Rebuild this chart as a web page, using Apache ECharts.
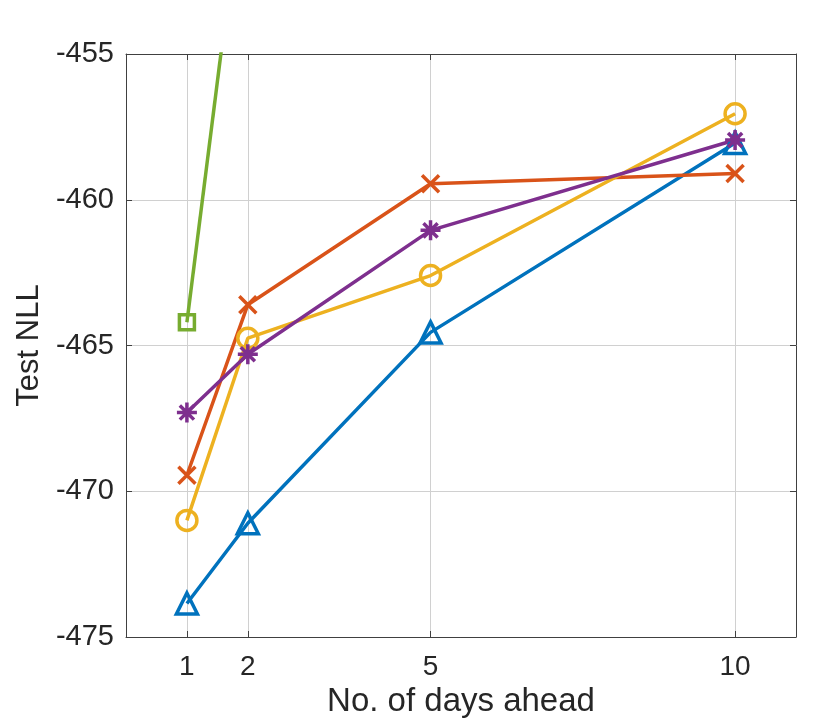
<!DOCTYPE html>
<html>
<head>
<meta charset="utf-8">
<script src="https://cdn.jsdelivr.net/npm/echarts@6/dist/echarts.min.js"></script>
<style>html,body{margin:0;padding:0;background:#fff;}#c{width:830px;height:724px;}</style>
</head>
<body>
<div id="c"></div>
<script>
var xTicks = [1, 2, 5, 10];
var days = [1, 2, 5, 10];
var blueVals = [-473.85, -471.1, -464.55, -458.05];
var orangeVals = [-469.45, -463.6, -459.45, -459.1];
var yellowVals = [-471.0, -464.75, -462.6, -457.05];
var purpleVals = [-467.3, -465.3, -461.05, -457.95];
var greenDays = [1, 2];
var greenVals = [-464.2, -447.7];

var FONT = '"Liberation Sans", Arial, Helvetica, sans-serif';
var ASTER = 'path://M10,0L10,20M0,10L20,10M2.93,2.93L17.07,17.07M17.07,2.93L2.93,17.07';
var XMARK = 'path://M0,0L20,20M20,0L0,20';

function pts(xs, ys){ return xs.map(function(x,i){ return [x, ys[i]]; }); }
function mk(name, xs, ys, color, symbol, size, bw){
  return {
    name: name, type: 'line', data: pts(xs, ys),
    symbol: symbol, symbolSize: size, showAllSymbol: true,
    lineStyle: {color: color, width: 3.5},
    itemStyle: {color: 'rgba(0,0,0,0)', borderColor: color, borderWidth: bw},
    clip: true, z: 3
  };
}

var chart = echarts.init(document.getElementById('c'), null, {renderer: 'canvas'});
var gridLine = {show: true, lineStyle: {color: '#d0d0d0', width: 1}};
chart.setOption({
  animation: false,
  backgroundColor: '#fff',
  grid: {left: 126, right: 34, top: 54, bottom: 87, containLabel: false},
  xAxis: [{
    type: 'value', min: 0, max: 11, interval: 1, position: 'bottom',
    name: 'No. of days ahead', nameLocation: 'middle', nameGap: 48,
    nameTextStyle: {fontFamily: FONT, fontSize: 33, color: '#262626'},
    axisLine: {show: true, onZero: false, lineStyle: {color: '#404040', width: 1}},
    axisTick: {show: true, inside: true, length: 6, customValues: xTicks, lineStyle: {color: '#404040'}},
    axisLabel: {show: true, customValues: xTicks, margin: 16, fontFamily: FONT, fontSize: 28, color: '#262626'},
    splitLine: gridLine
  }, {
    type: 'value', min: 0, max: 11, interval: 1, position: 'top',
    axisLine: {show: true, onZero: false, lineStyle: {color: '#404040', width: 1}},
    axisTick: {show: true, inside: true, length: 6, customValues: xTicks, lineStyle: {color: '#404040'}},
    axisLabel: {show: false},
    splitLine: {show: false}
  }],
  yAxis: [{
    type: 'value', min: -475, max: -455, interval: 5, position: 'left',
    name: 'Test NLL', nameLocation: 'middle', nameGap: 80, nameRotate: 90,
    nameTextStyle: {fontFamily: FONT, fontSize: 31, color: '#262626'},
    axisLine: {show: true, onZero: false, lineStyle: {color: '#404040', width: 1}},
    axisTick: {show: true, inside: true, length: 6, lineStyle: {color: '#404040'}},
    axisLabel: {show: true, margin: 12, fontFamily: FONT, fontSize: 29, color: '#262626'},
    splitLine: gridLine
  }, {
    type: 'value', min: -475, max: -455, interval: 5, position: 'right',
    axisLine: {show: true, onZero: false, lineStyle: {color: '#404040', width: 1}},
    axisTick: {show: true, inside: true, length: 6, lineStyle: {color: '#404040'}},
    axisLabel: {show: false},
    splitLine: {show: false}
  }],
  series: [
    mk('blue', days, blueVals, '#0072BD', 'triangle', 21, 3.5),
    mk('orange', days, orangeVals, '#D95319', XMARK, 17, 3.5),
    mk('yellow', days, yellowVals, '#EDB120', 'circle', 20, 3.5),
    mk('purple', days, purpleVals, '#7E2F8E', ASTER, 20, 3.5),
    mk('green', greenDays, greenVals, '#77AC30', 'rect', 15, 3.5)
  ]
});
</script>
</body>
</html>
